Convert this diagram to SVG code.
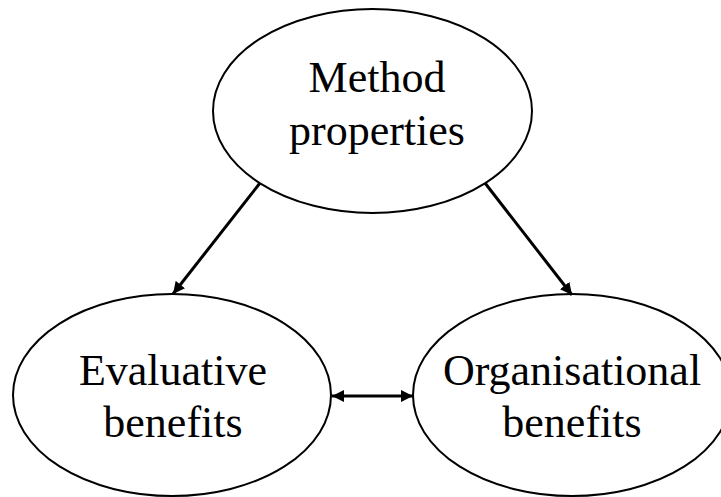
<svg xmlns="http://www.w3.org/2000/svg" width="721" height="497" viewBox="0 0 721 497">
<style>
.node ellipse{fill:#fff;stroke:#000;stroke-width:2}
.node text{font-family:"Liberation Serif","Times New Roman",serif;font-size:44px;fill:#000;text-anchor:middle}
.conn line{stroke:#000;stroke-width:3}
</style>
<defs>
<marker id="ah" viewBox="0 0 10 10" refX="10" refY="5" markerWidth="4" markerHeight="4" orient="auto-start-reverse" markerUnits="strokeWidth">
<path d="M0,0 L10,5 L0,10 z" fill="#000"/>
</marker>
</defs>
<rect width="721" height="497" fill="#fff"/>
<g id="method" class="node">
<ellipse cx="372.5" cy="111" rx="159.5" ry="102"/>
<text x="377" y="92">Method</text>
<text x="377" y="145">properties</text>
</g>
<g id="evaluative" class="node">
<ellipse cx="172" cy="395" rx="159" ry="101"/>
<text x="173" y="385">Evaluative</text>
<text x="173" y="437">benefits</text>
</g>
<g id="organisational" class="node">
<ellipse cx="572" cy="395" rx="159" ry="101"/>
<text x="572" y="385">Organisational</text>
<text x="572" y="437">benefits</text>
</g>
<g id="connectors" class="conn">
<line x1="260" y1="183" x2="173" y2="294" marker-end="url(#ah)"/>
<line x1="485" y1="183" x2="572" y2="295" marker-end="url(#ah)"/>
<line x1="332" y1="396" x2="413" y2="396" marker-start="url(#ah)" marker-end="url(#ah)"/>
</g>
</svg>
